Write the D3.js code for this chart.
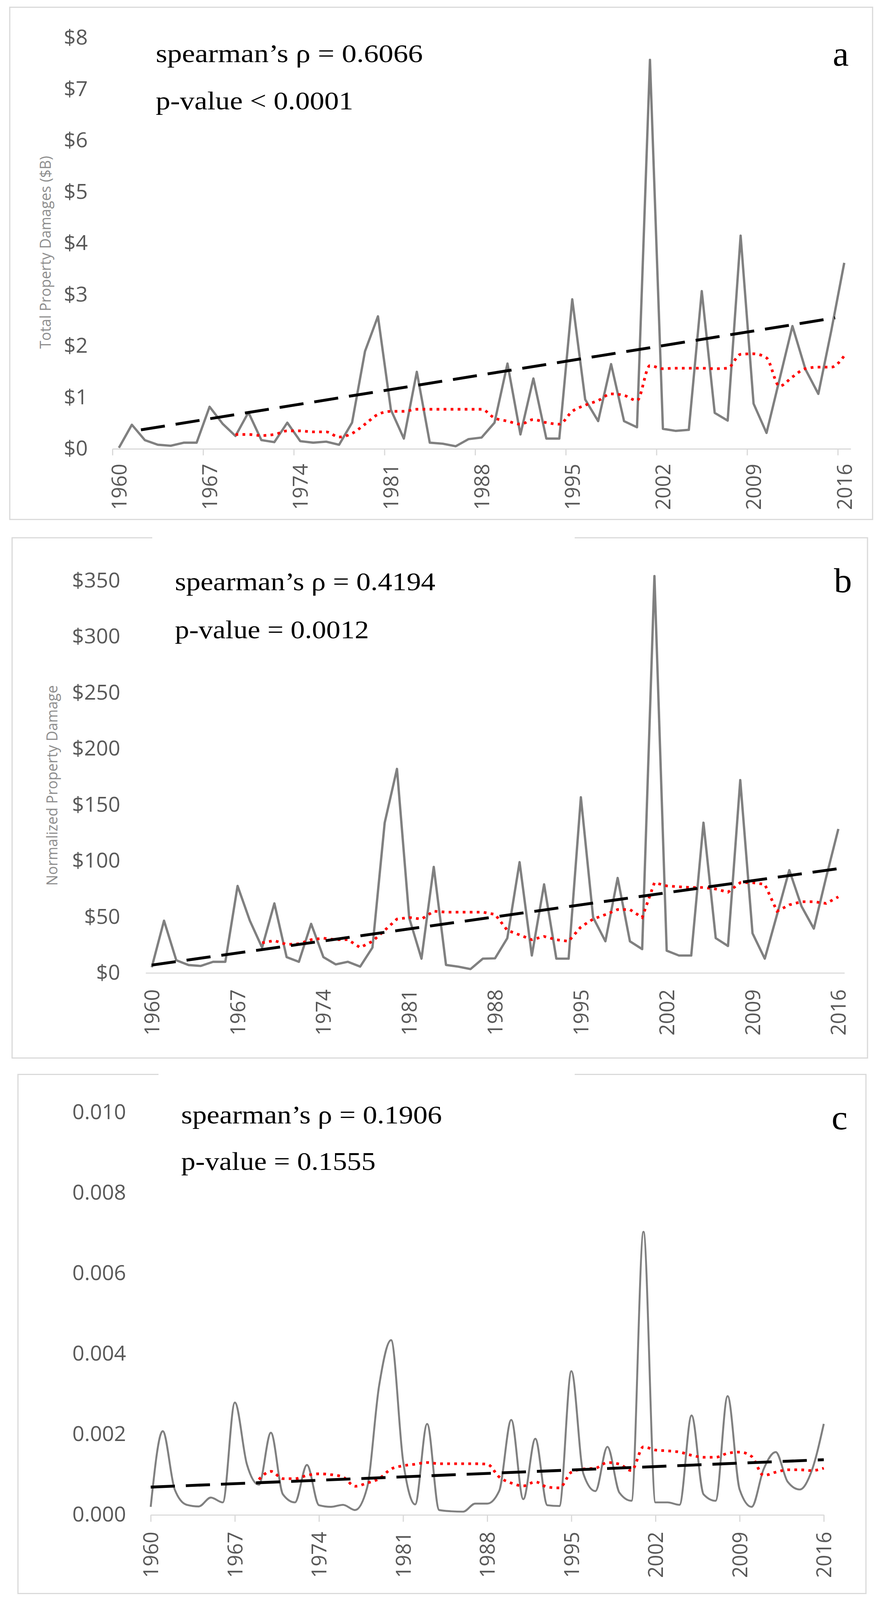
<!DOCTYPE html>
<html>
<head>
<meta charset="utf-8">
<script src="https://cdn.jsdelivr.net/npm/d3@7/dist/d3.min.js"></script>
<style>
html, body { margin: 0; padding: 0; background: #fff; overflow: hidden; }
svg { display: block; }
</style>
</head>
<body>
<svg id="chart"></svg>
<script>
// Values (1960-2016)
const years = [1960, 1961, 1962, 1963, 1964, 1965, 1966, 1967, 1968, 1969,
    1970, 1971, 1972, 1973, 1974, 1975, 1976, 1977, 1978, 1979,
    1980, 1981, 1982, 1983, 1984, 1985, 1986, 1987, 1988, 1989,
    1990, 1991, 1992, 1993, 1994, 1995, 1996, 1997, 1998, 1999,
    2000, 2001, 2002, 2003, 2004, 2005, 2006, 2007, 2008, 2009,
    2010, 2011, 2012, 2013, 2014, 2015, 2016];
const xLabelYears = [1960, 1967, 1974, 1981, 1988, 1995, 2002, 2009, 2016];
const maStartYear = 1969; // moving average (red dots) begins here

// panel a: total property damages ($B)
const totalDamage = [0.02, 0.47, 0.17, 0.08, 0.06, 0.12, 0.12, 0.82, 0.49, 0.25,
    0.71, 0.17, 0.13, 0.51, 0.15, 0.12, 0.14, 0.08, 0.51, 1.90,
    2.58, 0.76, 0.20, 1.50, 0.12, 0.10, 0.05, 0.19, 0.22, 0.51,
    1.66, 0.28, 1.37, 0.20, 0.20, 2.91, 0.96, 0.54, 1.65, 0.54,
    0.42, 7.57, 0.39, 0.35, 0.37, 3.07, 0.70, 0.55, 4.15, 0.88,
    0.31, 1.35, 2.39, 1.55, 1.07, 2.30, 3.62];
const totalDamageMA = [0.28, 0.28, 0.26, 0.28, 0.35, 0.35, 0.33, 0.33, 0.23, 0.30,
    0.48, 0.67, 0.73, 0.73, 0.77, 0.77, 0.77, 0.77, 0.77, 0.77,
    0.60, 0.54, 0.48, 0.57, 0.51, 0.48, 0.73, 0.85, 0.94, 1.07,
    1.04, 0.94, 1.62, 1.56, 1.57, 1.57, 1.57, 1.56, 1.57, 1.84,
    1.85, 1.77, 1.22, 1.40, 1.56, 1.59, 1.59, 1.81];
const trendYearsA = [1961.7, 2015.3];
const trendA = [0.37, 2.55];
const yTicksA = [0, 1, 2, 3, 4, 5, 6, 7, 8];
const statsA = ["spearman\u2019s \u03c1 = 0.6066", "p-value < 0.0001"];

// panel b: normalized property damage
const normDamage = [5, 46.6, 11.3, 7, 6.2, 9.9, 9.9, 77.6, 46.6, 22.6,
    62, 14.1, 9.9, 43.8, 14.1, 7.6, 9.9, 5.6, 22.6, 134,
    182, 49, 12.7, 94.6, 7.1, 5.6, 3.4, 12.7, 13, 31,
    98.8, 15.5, 79, 12.7, 12.7, 156.7, 49.4, 28.2, 84.7, 28.2,
    21.2, 354, 19.8, 15.5, 15.5, 134, 31, 24, 172, 35.3,
    12.7, 52, 91.7, 59.3, 39.5, 85, 128.4];
const normDamageMA = [26.8, 28.8, 25.4, 26, 29.6, 31, 29.6, 29.6, 22.6, 28.2,
    38, 48, 49.4, 48, 55, 54.2, 54.2, 54.2, 54.2, 52.2,
    38, 33.9, 29.6, 32.5, 29.6, 28.2, 41, 48, 52, 56.5,
    56.5, 49.4, 80.5, 77.6, 76.8, 76.2, 76.2, 74.8, 72, 80.5,
    80.5, 79, 55, 60.7, 63.5, 63.5, 62, 67.8];
const trendYearsB = [1960, 2016];
const trendB = [7, 93];
const yTicksB = [0, 50, 100, 150, 200, 250, 300, 350];
const statsB = ["spearman\u2019s \u03c1 = 0.4194", "p-value = 0.0012"];

// panel c: ratio, no axis title
const ratioDamage = [0.0002, 0.00208, 0.00063, 0.00025, 0.00021, 0.00043, 0.00031, 0.00279, 0.00126, 0.00075,
    0.00204, 0.00051, 0.00031, 0.00124, 0.00024, 0.0002, 0.00025, 0.00012, 0.00067, 0.0032,
    0.00434, 0.00134, 0.00026, 0.00226, 0.00012, 0.00009, 0.00008, 0.00028, 0.00028, 0.0006,
    0.00236, 0.00039, 0.00189, 0.00024, 0.00022, 0.00357, 0.00102, 0.00059, 0.00169, 0.00055,
    0.00035, 0.00703, 0.00031, 0.00031, 0.00025, 0.00247, 0.00051, 0.00035, 0.00295, 0.00063,
    0.0002, 0.00114, 0.00156, 0.00082, 0.00063, 0.0011, 0.00226];
const ratioDamageMA = [0.00088, 0.00108, 0.0009, 0.0009, 0.00098, 0.00102, 0.001, 0.00094, 0.00071, 0.00079,
    0.0009, 0.00114, 0.00122, 0.00126, 0.0013, 0.00127, 0.00127, 0.00127, 0.00127, 0.00126,
    0.00094, 0.00079, 0.00072, 0.00082, 0.00069, 0.00067, 0.00106, 0.00114, 0.00116, 0.0013,
    0.00126, 0.0011, 0.00169, 0.00161, 0.00159, 0.00156, 0.00148, 0.00143, 0.00143, 0.00153,
    0.00156, 0.00145, 0.00098, 0.00106, 0.00112, 0.00112, 0.0011, 0.00116];
const trendYearsC = [1960, 2016];
const trendC = [0.00069, 0.00137];
const yTicksC = [0, 0.002, 0.004, 0.006, 0.008, 0.010];
const statsC = ["spearman\u2019s \u03c1 = 0.1906", "p-value = 0.1555"];

const W = 2254, H = 4192;
// fit the full drawing into whatever height the window really has
const viewH = Math.min(H, window.innerHeight || H);
const svg = d3.select("#chart")
    .attr("width", W)
    .attr("height", viewH)
    .attr("viewBox", `0 0 ${W} ${H}`)
    .attr("preserveAspectRatio", "none");
svg.append("rect").attr("width", W).attr("height", H).attr("fill", "#fff");

const frameColor = "#d9d9d9";
const labelColor = "#595959";
const sansFont = "'Open Sans', 'Liberation Sans', sans-serif";
const serifFont = "'Liberation Serif', 'Times New Roman', serif";
const maYears = years.slice(years.indexOf(maStartYear));

function drawPanel(p) {
    const g = svg.append("g");

    // light frame round each panel
    g.append("rect")
        .attr("x", p.box[0]).attr("y", p.box[1])
        .attr("width", p.box[2] - p.box[0]).attr("height", p.box[3] - p.box[1])
        .attr("fill", "none").attr("stroke", frameColor).attr("stroke-width", 3);
    // the text box hides a piece of the top frame
    if (p.gap) {
        g.append("rect")
            .attr("x", p.gap[0]).attr("y", p.box[1] - 6)
            .attr("width", p.gap[1] - p.gap[0]).attr("height", 14)
            .attr("fill", "#fff");
    }

    const x = d3.scaleLinear().domain(p.xDomain).range(p.xRange);
    const y = d3.scaleLinear().domain([0, p.yTicks[p.yTicks.length - 1]]).range(p.yRange);

    // x axis line + tick marks
    const xAxis = d3.axisBottom(x)
        .tickValues(p.tickYears)
        .tickFormat("")
        .tickSize(p.tickLen)
        .tickSizeOuter(0);
    const ax = g.append("g")
        .attr("transform", `translate(0,${y(0)})`)
        .call(xAxis);
    ax.select(".domain").attr("stroke", frameColor).attr("stroke-width", 3);
    ax.selectAll(".tick line").attr("stroke", frameColor).attr("stroke-width", 3);

    // rotated year labels
    g.selectAll(".xlab")
        .data(xLabelYears)
        .join("text")
        .attr("class", "xlab")
        .attr("transform", d => `translate(${x(d)},${y(0) + p.labelGap}) rotate(-90)`)
        .attr("text-anchor", "end")
        .attr("dy", "0.36em")
        .attr("font-family", sansFont)
        .attr("font-size", 53)
        .attr("fill", labelColor)
        .text(d => d);

    // y axis labels only
    const yAxis = d3.axisLeft(y)
        .tickValues(p.yTicks)
        .tickFormat(p.yFormat)
        .tickSize(0)
        .tickPadding(0);
    const ay = g.append("g")
        .attr("transform", `translate(${p.yLabelX},0)`)
        .call(yAxis);
    ay.select(".domain").remove();
    ay.selectAll("text")
        .attr("font-family", sansFont)
        .attr("font-size", 54)
        .attr("fill", labelColor);

    if (p.yTitle) {
        g.append("text")
            .attr("transform", `translate(${p.yTitlePos[0]},${p.yTitlePos[1]}) rotate(-90)`)
            .attr("text-anchor", "middle")
            .attr("dy", "0.36em")
            .attr("font-family", sansFont)
            .attr("font-size", 38)
            .attr("fill", "#8c8c8c")
            .text(p.yTitle);
    }

    // data series
    const line = d3.line()
        .x((d, i) => x(years[i]))
        .y(d => y(d))
        .curve(p.smooth ? d3.curveMonotoneX : d3.curveLinear);
    g.append("path")
        .datum(p.values)
        .attr("d", line)
        .attr("fill", "none")
        .attr("stroke", "#808080")
        .attr("stroke-width", p.lineW)
        .attr("stroke-linejoin", "round");

    // moving average, red dots
    const maLine = d3.line()
        .x((d, i) => x(maYears[i]))
        .y(d => y(d))
        .curve(p.smoothMA ? d3.curveMonotoneX : d3.curveLinear);
    g.append("path")
        .datum(p.ma)
        .attr("d", maLine)
        .attr("fill", "none")
        .attr("stroke", "#ff0000")
        .attr("stroke-width", 7)
        .attr("stroke-dasharray", "7 11");

    // linear trend, black dashes
    const trendLine = d3.line()
        .x((d, i) => x(p.trendYears[i]))
        .y(d => y(d));
    g.append("path")
        .datum(p.trend)
        .attr("d", trendLine)
        .attr("fill", "none")
        .attr("stroke", "#000")
        .attr("stroke-width", 7.5)
        .attr("stroke-dasharray", "62 28");

    // spearman statistics
    p.stats.forEach((s, i) => {
        g.append("text")
            .attr("x", p.statX)
            .attr("y", p.statY[i])
            .attr("font-family", serifFont)
            .attr("font-size", 67)
            .attr("textLength", p.statW[i])
            .attr("lengthAdjust", "spacingAndGlyphs")
            .attr("fill", "#000")
            .text(s);
    });

    g.append("text")
        .attr("x", p.letterPos[0])
        .attr("y", p.letterPos[1])
        .attr("font-family", serifFont)
        .attr("font-size", 92)
        .attr("fill", "#000")
        .text(p.letter);
}

drawPanel({
    box: [25, 19, 2235, 1361],
    xDomain: [1959.5, 2016.5], xRange: [288, 2179],
    tickYears: xLabelYears.map(d => d - 0.5), tickLen: 17, labelGap: 39,
    yTicks: yTicksA, yRange: [1176, 99], yLabelX: 225,
    yFormat: d => "$" + d,
    yTitle: "Total Property Damages ($B)", yTitlePos: [116, 661],
    values: totalDamage, ma: totalDamageMA, smooth: false, smoothMA: true, lineW: 6,
    trendYears: trendYearsA, trend: trendA,
    stats: statsA, statX: 399, statY: [163, 287], statW: [684, 506],
    letter: "a", letterPos: [2133, 172]
});

drawPanel({
    box: [31, 1409, 2222, 2772], gap: [390, 1472],
    xDomain: [1959.5, 2016.5], xRange: [373, 2163],
    tickYears: [], tickLen: 0, labelGap: 43,
    yTicks: yTicksB, yRange: [2549, 1521], yLabelX: 308,
    yFormat: d => "$" + d,
    yTitle: "Normalized Property Damage", yTitlePos: [133, 2058],
    values: normDamage, ma: normDamageMA, smooth: false, smoothMA: false, lineW: 6,
    trendYears: trendYearsB, trend: trendB,
    stats: statsB, statX: 448, statY: [1546, 1672], statW: [667, 497],
    letter: "b", letterPos: [2136, 1552]
});

drawPanel({
    box: [46, 2815, 2218, 4175], gap: [406, 1472],
    xDomain: [1960, 2016], xRange: [386, 2110],
    tickYears: xLabelYears, tickLen: 18, labelGap: 44,
    yTicks: yTicksC, yRange: [3969, 2914], yLabelX: 323,
    yFormat: d3.format(".3f"),
    yTitle: null,
    values: ratioDamage, ma: ratioDamageMA, smooth: true, smoothMA: true, lineW: 5,
    trendYears: trendYearsC, trend: trendC,
    stats: statsC, statX: 464, statY: [2943, 3065], statW: [668, 498],
    letter: "c", letterPos: [2130, 2959]
});
</script>
</body>
</html>
